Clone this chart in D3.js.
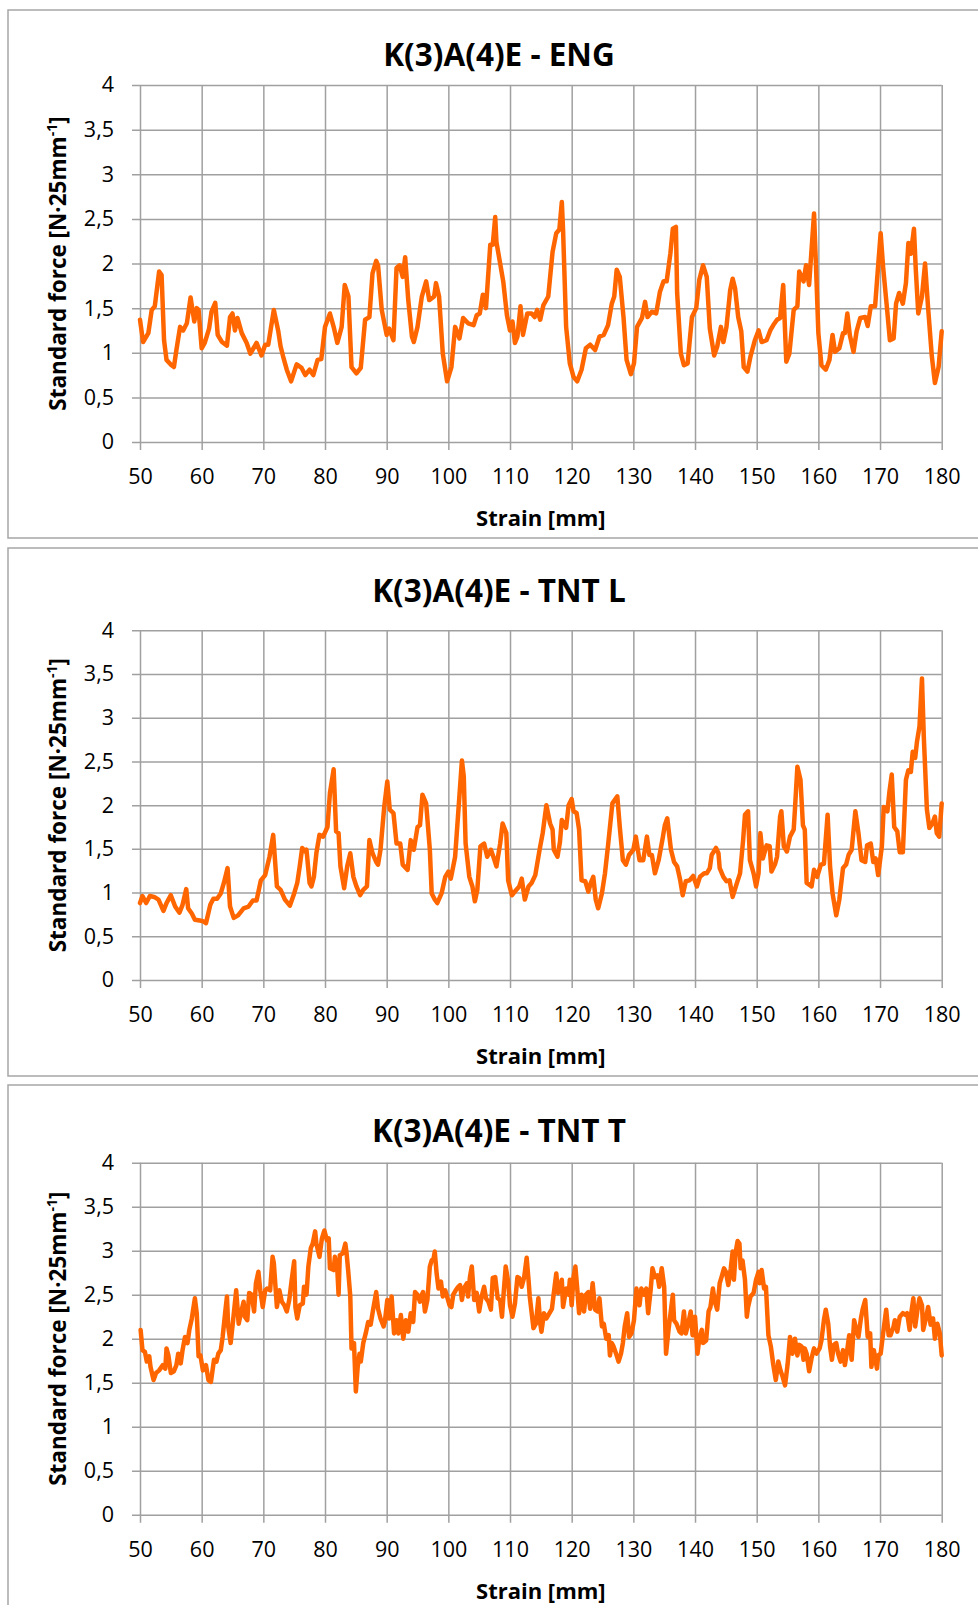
<!DOCTYPE html>
<html>
<head>
<meta charset="utf-8">
<script src="https://cdn.jsdelivr.net/npm/d3@7"></script>
<style>
    body { margin: 0; background: #ffffff; }
    svg { display: block; font-family: "Open Sans", sans-serif; }
</style>
</head>
<body>
<div id="chart"></div>
<script>
// values, [strain mm, force]
const engPoints = [[50,1.37],[50.5,1.12],[51.35,1.22],[51.9,1.48],[52.4,1.52],[53.1,1.91],[53.5,1.87],[53.9,1.14],[54.3,0.92],[55.1,0.86],[55.5,0.84],[55.9,1.03],[56.5,1.29],[57,1.25],[57.6,1.33],[58.2,1.62],[58.8,1.35],[59.2,1.5],[59.5,1.48],[60,1.05],[60.5,1.11],[61.2,1.27],[61.6,1.46],[62.2,1.56],[62.6,1.2],[63.3,1.12],[64.1,1.08],[64.6,1.4],[65,1.44],[65.4,1.25],[65.8,1.39],[66.5,1.22],[67.3,1.11],[67.9,0.99],[68.9,1.11],[69.7,0.97],[70.3,1.09],[70.8,1.09],[71.7,1.48],[72.4,1.25],[72.8,1.07],[73.2,0.96],[73.8,0.81],[74.5,0.68],[75.4,0.87],[76.2,0.83],[76.8,0.75],[77.5,0.81],[78.1,0.75],[78.8,0.92],[79.4,0.93],[80,1.29],[80.8,1.44],[81.4,1.29],[82,1.11],[82.7,1.29],[83.2,1.76],[83.8,1.63],[84.3,0.84],[85.1,0.77],[85.8,0.83],[86.5,1.37],[87.2,1.4],[87.7,1.89],[88.3,2.03],[88.6,1.98],[89.2,1.48],[90,1.2],[90.4,1.27],[91.1,1.14],[91.6,1.95],[92.1,1.98],[92.6,1.85],[93,2.07],[93.5,1.59],[94.1,1.18],[94.4,1.12],[95,1.29],[95.7,1.63],[96.4,1.8],[96.9,1.59],[97.7,1.63],[98,1.78],[98.5,1.63],[99.1,0.99],[99.8,0.68],[100.5,0.84],[101.1,1.29],[101.8,1.16],[102.4,1.39],[103.2,1.33],[104.1,1.31],[104.6,1.42],[105.1,1.44],[105.6,1.65],[106.1,1.5],[106.8,2.21],[107.2,2.21],[107.6,2.52],[107.8,2.24],[108.3,2.04],[108.9,1.8],[109.5,1.42],[110,1.25],[110.4,1.35],[110.8,1.11],[111.2,1.18],[111.7,1.52],[112.1,1.2],[112.8,1.44],[113.5,1.44],[114,1.4],[114.4,1.48],[114.9,1.37],[115.4,1.53],[116.2,1.63],[116.9,2.13],[117.5,2.34],[118,2.38],[118.4,2.69],[118.6,2.38],[119.1,1.29],[119.7,0.88],[120.3,0.73],[120.9,0.68],[121.6,0.81],[122.3,1.05],[123,1.09],[123.8,1.03],[124.5,1.18],[125.2,1.2],[125.9,1.31],[126.5,1.55],[126.9,1.63],[127.3,1.93],[127.8,1.85],[128.4,1.4],[128.9,0.92],[129.6,0.76],[130.1,0.88],[130.6,1.29],[131.4,1.39],[131.9,1.57],[132.3,1.4],[133,1.46],[133.7,1.44],[134.3,1.68],[134.9,1.8],[135.4,1.8],[136,2.11],[136.4,2.39],[136.9,2.41],[137.1,1.67],[137.7,0.99],[138.2,0.86],[138.8,0.88],[139.5,1.4],[140.2,1.5],[140.7,1.82],[141.3,1.98],[141.9,1.85],[142.4,1.27],[143.1,0.97],[143.6,1.07],[144.2,1.29],[144.6,1.12],[145.1,1.29],[145.7,1.7],[146.1,1.83],[146.5,1.72],[147,1.4],[147.5,1.24],[147.9,0.84],[148.5,0.79],[149,0.96],[149.7,1.14],[150.3,1.25],[150.8,1.12],[151.6,1.14],[152.2,1.25],[152.7,1.31],[153.3,1.37],[153.8,1.39],[154.3,1.76],[154.8,0.9],[155.3,0.99],[156,1.48],[156.6,1.52],[156.9,1.91],[157.6,1.8],[158,1.98],[158.5,1.76],[159.3,2.56],[159.6,2],[160,1.22],[160.5,0.86],[161.2,0.81],[161.8,0.92],[162.3,1.2],[162.7,1.01],[163.4,1.05],[164,1.22],[164.3,1.22],[164.7,1.44],[165.1,1.2],[165.7,1.01],[166.2,1.24],[166.8,1.39],[167.6,1.4],[168,1.3],[168.5,1.52],[169.2,1.52],[169.7,1.98],[170.1,2.34],[170.5,1.96],[171.1,1.52],[171.6,1.14],[172.2,1.16],[172.6,1.55],[173.1,1.67],[173.7,1.55],[174.2,1.78],[174.6,2.23],[175,2.11],[175.5,2.39],[175.8,1.93],[176.2,1.44],[176.8,1.63],[177.3,2],[177.8,1.5],[178.4,0.96],[178.9,0.66],[179.5,0.84],[180,1.24]];

const tntLPoints = [[50,0.88],[50.4,0.96],[51,0.88],[51.6,0.96],[52.3,0.95],[53,0.92],[53.8,0.79],[54.3,0.88],[55,0.97],[55.7,0.84],[56.4,0.77],[56.9,0.86],[57.5,1.04],[57.8,0.82],[58.4,0.76],[58.9,0.69],[59.7,0.68],[60.3,0.67],[60.7,0.65],[61.4,0.86],[61.9,0.93],[62.5,0.93],[63.1,0.99],[63.6,1.11],[64.2,1.28],[64.6,0.84],[65.2,0.71],[65.9,0.74],[66.8,0.82],[67.6,0.84],[68.3,0.91],[68.9,0.91],[69.6,1.14],[70.3,1.2],[71,1.41],[71.6,1.66],[72.2,1.07],[72.8,1.03],[73.5,0.92],[74.3,0.85],[75,0.99],[75.5,1.11],[75.9,1.3],[76.3,1.51],[76.8,1.47],[77,1.49],[77.5,1.11],[77.8,1.07],[78.2,1.18],[78.6,1.45],[79.1,1.66],[79.7,1.64],[80.4,1.75],[80.8,2.14],[81.4,2.41],[81.8,1.7],[82.2,1.68],[82.5,1.3],[83.1,1.05],[83.6,1.3],[84.1,1.45],[84.6,1.18],[85.1,1.07],[85.7,0.97],[86.2,1.03],[86.8,1.07],[87.2,1.6],[87.7,1.45],[88.3,1.35],[88.6,1.32],[89,1.49],[89.6,1.98],[90.1,2.27],[90.5,1.95],[91.1,1.91],[91.6,1.56],[92.2,1.56],[92.6,1.32],[93.4,1.26],[93.9,1.6],[94.4,1.49],[95,1.75],[95.4,1.77],[95.8,2.12],[96.4,2.02],[97,1.49],[97.3,0.99],[97.8,0.92],[98.2,0.88],[98.9,0.99],[99.5,1.18],[100,1.24],[100.4,1.16],[101.1,1.41],[101.6,1.91],[102.2,2.51],[102.5,2.33],[102.8,1.56],[103.4,1.18],[103.9,1.07],[104.3,0.9],[104.7,1.03],[105.2,1.53],[105.8,1.56],[106.3,1.41],[106.9,1.49],[107.3,1.41],[107.8,1.3],[108.4,1.56],[108.8,1.79],[109.4,1.68],[109.7,1.14],[110.3,0.97],[111,1.03],[111.5,1.07],[111.9,1.16],[112.4,0.92],[113,1.07],[113.5,1.11],[114.1,1.2],[114.8,1.49],[115.3,1.68],[115.9,2],[116.5,1.79],[116.9,1.72],[117.1,1.49],[117.7,1.41],[118.1,1.58],[118.4,1.83],[119.1,1.74],[119.5,2],[120,2.07],[120.3,1.93],[120.8,1.91],[121.2,1.72],[121.6,1.14],[122.2,1.13],[122.7,1.01],[123.1,1.11],[123.5,1.18],[123.9,0.92],[124.3,0.82],[124.9,0.99],[125.4,1.22],[125.9,1.54],[126.6,2.02],[127.4,2.1],[127.8,1.75],[128.3,1.37],[128.8,1.32],[129.3,1.43],[130,1.49],[130.4,1.64],[131,1.37],[131.6,1.37],[132.2,1.64],[132.6,1.43],[133,1.43],[133.5,1.22],[134.1,1.37],[134.8,1.64],[135.1,1.77],[135.5,1.85],[136.1,1.49],[136.6,1.35],[137.1,1.3],[137.6,1.14],[138,0.97],[138.5,1.13],[139.1,1.14],[139.7,1.19],[140.3,1.07],[140.8,1.18],[141.5,1.22],[141.9,1.22],[142.4,1.28],[142.7,1.43],[143.4,1.51],[143.8,1.45],[144,1.28],[144.6,1.18],[145.1,1.13],[145.6,1.14],[146.1,0.95],[146.8,1.11],[147.3,1.22],[147.8,1.6],[148.1,1.89],[148.6,1.93],[148.9,1.37],[149.5,1.22],[149.9,1.07],[150.3,1.22],[150.6,1.68],[151,1.39],[151.6,1.54],[152.1,1.53],[152.4,1.24],[153,1.33],[153.3,1.41],[153.8,1.87],[154,1.93],[154.4,1.53],[154.9,1.47],[155.4,1.64],[156,1.72],[156.2,1.95],[156.6,2.44],[157.1,2.29],[157.5,1.77],[157.8,1.72],[158.1,1.11],[158.9,1.07],[159.3,1.26],[159.8,1.18],[160.4,1.32],[160.9,1.33],[161.5,1.89],[161.9,1.3],[162.3,0.99],[162.9,0.74],[163.4,0.92],[164,1.28],[164.5,1.32],[164.9,1.43],[165.4,1.49],[166,1.93],[166.5,1.68],[167,1.37],[167.6,1.35],[167.9,1.54],[168.5,1.56],[168.9,1.35],[169.3,1.39],[169.7,1.2],[170.3,1.53],[170.6,1.98],[171.2,1.93],[171.5,2.14],[171.9,2.35],[172.3,1.75],[172.8,1.7],[173.2,1.46],[173.7,1.46],[174.2,2.29],[174.6,2.4],[175,2.38],[175.3,2.61],[175.7,2.54],[176,2.73],[176.4,2.9],[176.8,3.45],[177.1,2.78],[177.6,1.95],[178,1.74],[178.5,1.79],[178.9,1.87],[179.2,1.68],[179.6,1.64],[180,2.02]];

const tntTPoints = [[50.1,2.1],[50.4,1.87],[50.8,1.85],[51.1,1.74],[51.5,1.8],[51.7,1.68],[52.2,1.53],[52.6,1.61],[53.1,1.64],[53.7,1.7],[54.1,1.66],[54.3,1.89],[54.6,1.81],[55,1.61],[55.5,1.63],[55.9,1.7],[56.2,1.83],[56.6,1.72],[56.9,1.87],[57.3,2.02],[57.7,1.95],[58,2.1],[58.4,2.23],[58.9,2.46],[59.2,2.29],[59.5,1.8],[59.8,1.81],[60.2,1.64],[60.7,1.7],[61.1,1.53],[61.5,1.51],[62,1.76],[62.4,1.74],[62.7,1.83],[63.1,1.87],[63.4,2.02],[63.8,2.29],[64.1,2.48],[64.3,2.14],[64.7,1.95],[65.1,2.21],[65.6,2.55],[66,2.17],[66.3,2.27],[66.8,2.42],[67,2.25],[67.4,2.21],[67.7,2.52],[68.1,2.5],[68.5,2.31],[68.8,2.63],[69.2,2.76],[69.5,2.55],[69.9,2.36],[70.3,2.55],[70.6,2.57],[71.1,2.55],[71.5,2.93],[71.7,2.86],[72.2,2.36],[72.6,2.55],[73,2.42],[73.4,2.38],[73.8,2.31],[74.2,2.44],[74.6,2.67],[75,2.88],[75.2,2.36],[75.5,2.23],[75.9,2.38],[76.4,2.4],[76.6,2.59],[77,2.5],[77.3,2.82],[77.7,3.03],[78,3.08],[78.4,3.22],[78.6,3.08],[79.1,2.93],[79.5,3.14],[79.9,3.23],[80.3,3.12],[80.6,3.14],[80.8,2.8],[81.4,2.78],[81.6,2.93],[82,2.78],[82.2,2.5],[82.4,2.95],[82.9,2.97],[83.3,3.08],[83.5,2.97],[83.8,2.74],[84.1,2.48],[84.3,1.89],[84.7,1.95],[85,1.4],[85.3,1.68],[85.6,1.83],[85.8,1.74],[86.2,1.95],[86.6,2.06],[87,2.19],[87.4,2.16],[87.8,2.33],[88.3,2.53],[88.6,2.34],[89,2.23],[89.5,2.14],[89.7,2.19],[90.1,2.44],[90.4,2.23],[90.8,2.48],[91.2,2.06],[91.6,2.21],[91.9,2.06],[92.3,2.27],[92.7,2],[93.1,2.21],[93.5,2.08],[93.9,2.29],[94.3,2.19],[94.6,2.53],[95,2.5],[95.4,2.42],[95.7,2.5],[95.9,2.53],[96.2,2.31],[96.6,2.44],[97,2.82],[97.3,2.89],[97.6,2.91],[97.8,2.99],[98.1,2.74],[98.4,2.57],[98.8,2.65],[99.1,2.48],[99.5,2.55],[99.7,2.5],[100.2,2.38],[100.5,2.36],[100.8,2.5],[101.2,2.55],[101.6,2.59],[101.9,2.61],[102.2,2.44],[102.5,2.57],[103,2.63],[103.2,2.48],[103.5,2.7],[103.8,2.82],[104.2,2.44],[104.6,2.52],[105,2.31],[105.4,2.48],[105.8,2.59],[106.1,2.46],[106.5,2.42],[106.9,2.33],[107.2,2.69],[107.6,2.7],[108,2.46],[108.4,2.44],[108.7,2.25],[109,2.55],[109.3,2.82],[109.7,2.65],[110,2.38],[110.4,2.25],[110.8,2.4],[111.2,2.7],[111.5,2.69],[111.9,2.59],[112.3,2.7],[112.7,2.92],[113,2.67],[113.2,2.48],[113.8,2.12],[114.2,2.17],[114.6,2.46],[114.9,2.17],[115.1,2.08],[115.5,2.29],[115.9,2.23],[116.4,2.29],[116.8,2.34],[117.1,2.52],[117.5,2.74],[117.8,2.52],[118.1,2.57],[118.4,2.67],[118.6,2.36],[119.1,2.57],[119.5,2.5],[119.7,2.67],[120,2.38],[120.3,2.7],[120.6,2.82],[120.9,2.57],[121.2,2.29],[121.6,2.5],[122,2.31],[122.3,2.5],[122.7,2.53],[123,2.34],[123.4,2.63],[123.8,2.33],[124.2,2.31],[124.5,2.46],[124.9,2.14],[125.2,2.17],[125.6,2],[126,2.04],[126.2,1.81],[126.5,1.95],[126.8,1.91],[127.2,1.83],[127.6,1.74],[128,1.83],[128.3,1.95],[128.6,2.14],[129,2.29],[129.3,2.02],[129.7,2.06],[130.1,2.21],[130.5,2.57],[131,2.38],[131.3,2.57],[131.7,2.5],[132.1,2.57],[132.4,2.29],[132.8,2.55],[133.1,2.8],[133.5,2.7],[133.9,2.72],[134.2,2.59],[134.6,2.8],[135,2.59],[135.3,1.83],[135.7,2.1],[136.1,2.33],[136.4,2.5],[136.6,2.21],[137,2.17],[137.5,2.08],[137.8,2.06],[138.2,2.31],[138.5,2.06],[138.9,2.17],[139.3,2.31],[139.6,2.04],[140,2.25],[140.4,1.83],[140.7,2],[141.1,2.1],[141.3,1.95],[141.8,1.98],[142.2,2.31],[142.5,2.36],[142.9,2.57],[143.2,2.42],[143.6,2.33],[144,2.63],[144.3,2.7],[144.7,2.8],[145,2.76],[145.4,2.61],[145.8,2.8],[146.1,2.99],[146.3,2.67],[146.6,2.99],[146.9,3.11],[147.2,3.08],[147.4,2.8],[147.7,2.89],[148.1,2.67],[148.4,2.25],[148.6,2.36],[149,2.48],[149.5,2.52],[149.9,2.67],[150.3,2.76],[150.5,2.63],[150.8,2.78],[151.2,2.57],[151.5,2.59],[151.9,2.04],[152.3,1.91],[152.7,1.7],[153.1,1.53],[153.5,1.74],[153.9,1.63],[154.2,1.57],[154.6,1.47],[155,1.7],[155.4,2.02],[155.8,1.83],[156.2,2],[156.6,1.81],[156.9,1.93],[157.3,1.91],[157.6,1.76],[157.8,1.89],[158.1,1.83],[158.5,1.63],[158.9,1.78],[159.3,1.89],[159.7,1.83],[160.2,1.89],[160.5,1.98],[160.9,2.21],[161.2,2.33],[161.6,2.17],[161.9,1.91],[162.2,1.76],[162.5,1.93],[162.9,1.95],[163.2,1.83],[163.6,1.74],[164,1.87],[164.3,1.7],[164.6,1.83],[165,2.04],[165.4,1.76],[165.8,2.21],[166.1,2.12],[166.5,2.02],[166.9,2.23],[167.2,2.34],[167.6,2.44],[168,2.02],[168.4,2.06],[168.6,1.68],[169,1.87],[169.5,1.66],[169.7,1.81],[170.1,1.83],[170.5,2.06],[171,2.33],[171.4,2.04],[171.7,2.04],[172.2,2.14],[172.4,2.21],[172.8,2.08],[173.2,2.25],[173.7,2.29],[174.1,2.27],[174.4,2.29],[174.8,2.1],[175.1,2.31],[175.4,2.46],[175.7,2.14],[176.1,2.34],[176.4,2.46],[176.8,2.38],[177,2.1],[177.5,2.25],[177.8,2.36],[178.2,2.16],[178.6,2.23],[178.9,2],[179.3,2.17],[179.7,2.06],[180,1.81]];

const chartTitles = ["K(3)A(4)E - ENG", "K(3)A(4)E - TNT L", "K(3)A(4)E - TNT T"];
const strainTicks = [50, 60, 70, 80, 90, 100, 110, 120, 130, 140, 150, 160, 170, 180];
const forceTicks = [0, 0.5, 1, 1.5, 2, 2.5, 3, 3.5, 4];

const W = 978, H = 1605;

class FORCEPLOT {
    constructor({ svg, panelTop, plotTop, plotBottom, titleY, title, points }) {
        this.svg = svg;
        this.panelTop = panelTop;
        this.plotTop = plotTop;
        this.plotBottom = plotBottom;
        this.titleY = titleY;
        this.title = title;
        this.points = points;

        this.left = 140;
        this.right = 941.7;

        this.x = d3.scaleLinear()
            .domain([50, 180])
            .range([this.left, this.right]);
        this.y = d3.scaleLinear()
            .domain([0, 4])
            .range([this.plotBottom, this.plotTop]);

        this.g = this.svg.append("g");
        this.drawFrame();
        this.drawGrid();
        this.drawLine();
        this.drawLabels();
    }

    drawFrame() {
        this.g.append("rect")
            .attr("x", 8)
            .attr("y", this.panelTop)
            .attr("width", 990)
            .attr("height", 528)
            .attr("fill", "#ffffff")
            .attr("stroke", "#a6a6a6")
            .attr("stroke-width", 1.5);
    }

    drawGrid() {
        const h = this.plotBottom - this.plotTop,
              w = this.right - this.left;

        // gridline and its 8px outer tick are one line
        const yAxis = this.g.append("g")
            .attr("transform", "translate(" + (this.left - 8) + ",0)")
            .call(d3.axisLeft(this.y)
                .tickValues(forceTicks)
                .tickSize(-(w + 8))
                .tickPadding(18)
                .tickFormat(d => String(d).replace(".", ",")));

        const xAxis = this.g.append("g")
            .attr("transform", "translate(0," + (this.plotBottom + 8) + ")")
            .call(d3.axisBottom(this.x)
                .tickValues(strainTicks)
                .tickSize(-(h + 8))
                .tickPadding(19));

        [xAxis, yAxis].forEach(a => {
            a.select(".domain").remove();
            a.selectAll("line")
                .attr("stroke", "#a0a0a0")
                .attr("stroke-width", 1.5);
            a.selectAll("text")
                .attr("fill", "#000000")
                .style("font-size", "21.5px")
                .style("font-family", "'Open Sans', sans-serif");
        });
    }

    drawLine() {
        const line = d3.line()
            .x(d => this.x(d[0]))
            .y(d => this.y(d[1]));

        this.g.append("path")
            .datum(this.points)
            .attr("d", line)
            .attr("fill", "none")
            .attr("stroke", "#ff6600")
            .attr("stroke-width", 4.5)
            .attr("stroke-linejoin", "round")
            .attr("stroke-linecap", "round");
    }

    drawLabels() {
        this.g.append("text")
            .attr("x", 499)
            .attr("y", this.titleY)
            .attr("text-anchor", "middle")
            .style("font-size", "31.5px")
            .style("font-weight", "bold")
            .text(this.title);

        this.g.append("text")
            .attr("x", (this.left + this.right) / 2)
            .attr("y", this.plotBottom + 84)
            .attr("text-anchor", "middle")
            .style("font-size", "22px")
            .style("font-weight", "bold")
            .text("Strain [mm]");

        const yt = this.g.append("text")
            .attr("transform", "translate(66," + ((this.plotTop + this.plotBottom) / 2) + ") rotate(-90)")
            .attr("text-anchor", "middle")
            .style("font-size", "22.5px")
            .style("font-weight", "bold");
        yt.append("tspan").text("Standard force [N\u00b725mm");
        yt.append("tspan")
            .attr("dy", -9)
            .style("font-size", "14px")
            .text("-1");
        yt.append("tspan")
            .attr("dy", 9)
            .text("]");
    }
}

const svg = d3.select("#chart")
    .append("svg")
    .attr("width", W)
    .attr("height", H);

new FORCEPLOT({ svg, panelTop: 10, plotTop: 85, plotBottom: 442, titleY: 66, title: chartTitles[0], points: engPoints });
new FORCEPLOT({ svg, panelTop: 548, plotTop: 630.3, plotBottom: 980, titleY: 602, title: chartTitles[1], points: tntLPoints });
new FORCEPLOT({ svg, panelTop: 1085, plotTop: 1162.7, plotBottom: 1514.7, titleY: 1142, title: chartTitles[2], points: tntTPoints });
</script>
</body>
</html>
